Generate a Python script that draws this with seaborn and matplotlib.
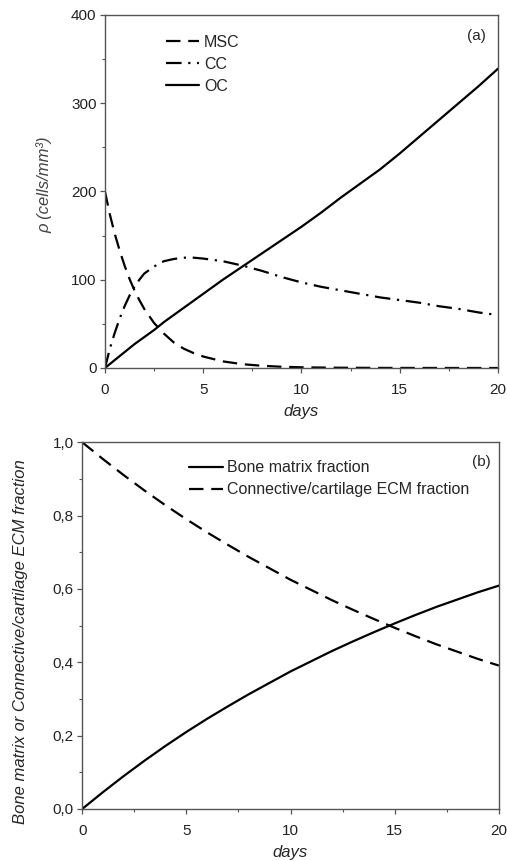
import numpy as np
import pandas as pd
import matplotlib
matplotlib.use("Agg")
import matplotlib.pyplot as plt
import seaborn as sns
from matplotlib.ticker import MultipleLocator, FuncFormatter

# ---- data ----
days_a = [0, 0.25, 0.5, 0.75, 1, 1.25, 1.5, 1.75, 2, 2.5, 3, 3.5, 4, 4.5, 5, 6, 7, 8, 9, 10,
          11, 12, 13, 14, 15, 16, 17, 18, 19, 20]
msc = [200, 174, 152, 133, 116, 101, 88, 77, 67, 51, 39, 29, 22, 17, 13, 7.5, 4.3, 2.5, 1.4, 0.8,
       0.5, 0.3, 0.2, 0.1, 0.07, 0.05, 0.03, 0.02, 0.01, 0.01]
cc = [0, 22, 40, 56, 70, 82, 92, 100, 107, 115, 121, 123.5, 125, 125, 124, 121, 116, 110, 103, 97,
      92, 88, 84, 80, 77, 74, 70, 67, 63, 60]
oc = [0, 4.5, 9, 13.5, 18, 22.5, 27, 31, 35, 43, 52, 60, 68, 76, 84, 100, 115, 130, 145, 160,
      176, 193, 209, 225, 243, 262, 281, 300, 319, 339]

days_b = [0, 1, 2, 3, 4, 5, 6, 7, 8, 9, 10, 11, 12, 13, 14, 15, 16, 17, 18, 19, 20]
bone = [0, 0.046, 0.09, 0.132, 0.172, 0.21, 0.246, 0.28, 0.313, 0.344, 0.375, 0.403, 0.431,
        0.457, 0.482, 0.506, 0.529, 0.551, 0.571, 0.591, 0.609]
ecm = [1, 0.954, 0.91, 0.868, 0.828, 0.79, 0.754, 0.72, 0.687, 0.656, 0.625, 0.597, 0.569,
       0.543, 0.518, 0.494, 0.471, 0.449, 0.429, 0.409, 0.391]

series_a = ["MSC", "CC", "OC"]
series_b = ["Bone matrix fraction", "Connective/cartilage ECM fraction"]

df_a = pd.DataFrame({
    "days": days_a * 3,
    "value": msc + cc + oc,
    "series": [s for s in series_a for _ in days_a],
})
df_b = pd.DataFrame({
    "days": days_b * 2,
    "value": bone + ecm,
    "series": [s for s in series_b for _ in days_b],
})

sns.set_theme(style="ticks")
plt.rcParams["font.family"] = ["Liberation Sans", "DejaVu Sans"]
plt.rcParams["axes.edgecolor"] = "#555555"
plt.rcParams["xtick.color"] = "#555555"
plt.rcParams["ytick.color"] = "#555555"
plt.rcParams["xtick.labelcolor"] = "#222222"
plt.rcParams["ytick.labelcolor"] = "#222222"

fig = plt.figure(figsize=(5.07, 8.61), dpi=100)
ax1 = fig.add_axes([0.207, 0.5726, 0.775, 0.41])
ax2 = fig.add_axes([0.162, 0.0604, 0.822, 0.426])

tick_fs = 11
lab_fs = 12
leg_fs = 11.5

sns.lineplot(data=df_a, x="days", y="value", hue="series", style="series",
             hue_order=series_a, style_order=series_a,
             palette=["black"] * 3,
             dashes={"MSC": (6.5, 3.5), "CC": (7, 3, 1, 3), "OC": ""},
             linewidth=1.6, ax=ax1, legend=True)
sns.lineplot(data=df_b, x="days", y="value", hue="series", style="series",
             hue_order=series_b, style_order=series_b,
             palette=["black"] * 2,
             dashes={"Bone matrix fraction": "", "Connective/cartilage ECM fraction": (6.5, 3.5)},
             linewidth=1.6, ax=ax2, legend=True)

for ax in (ax1, ax2):
    for s in ax.spines.values():
        s.set_visible(True)
        s.set_linewidth(1.0)
    ax.set_xlim(0, 20)
    ax.xaxis.set_major_locator(MultipleLocator(5))
    ax.xaxis.set_minor_locator(MultipleLocator(2.5))
    ax.tick_params(axis="both", which="major", direction="out", length=3.5, width=0.9,
                   labelsize=tick_fs, top=False, right=False, pad=2.5)
    ax.tick_params(axis="x", which="major", pad=7)
    ax.tick_params(axis="both", which="minor", direction="out", length=2.5, width=0.8,
                   top=False, right=False)
    ax.set_xlabel("days", fontsize=lab_fs, style="italic", labelpad=5)

ax1.set_ylim(0, 400)
ax1.yaxis.set_major_locator(MultipleLocator(100))
ax1.yaxis.set_minor_locator(MultipleLocator(50))
ax1.set_ylabel("ρ (cells/mm³)", fontsize=lab_fs, style="italic", color="#444444")
ax1.yaxis.set_label_coords(-0.133, 0.52)
ax1.text(0.97, 0.96, "(a)", transform=ax1.transAxes, ha="right", va="top", fontsize=tick_fs)

ax2.set_ylim(0, 1)
ax2.yaxis.set_major_locator(MultipleLocator(0.2))
ax2.yaxis.set_minor_locator(MultipleLocator(0.1))
ax2.yaxis.set_major_formatter(FuncFormatter(lambda v, p: f"{v:.1f}".replace(".", ",")))
ax2.set_ylabel("Bone matrix or Connective/cartilage ECM fraction", fontsize=lab_fs,
               style="italic")
ax2.yaxis.set_label_coords(-0.13, 0.455)
ax2.text(0.98, 0.965, "(b)", transform=ax2.transAxes, ha="right", va="top", fontsize=tick_fs)

ax1.legend(title=None, frameon=False, loc="upper left", bbox_to_anchor=(0.118, 0.985),
           fontsize=leg_fs, handlelength=2.1, handletextpad=0.3, labelspacing=0.45)
ax2.legend(title=None, frameon=False, loc="upper left", bbox_to_anchor=(0.222, 0.99),
           fontsize=leg_fs, handlelength=2.1, handletextpad=0.3, labelspacing=0.45)

fig.savefig("out.png", dpi=100, facecolor="white")
